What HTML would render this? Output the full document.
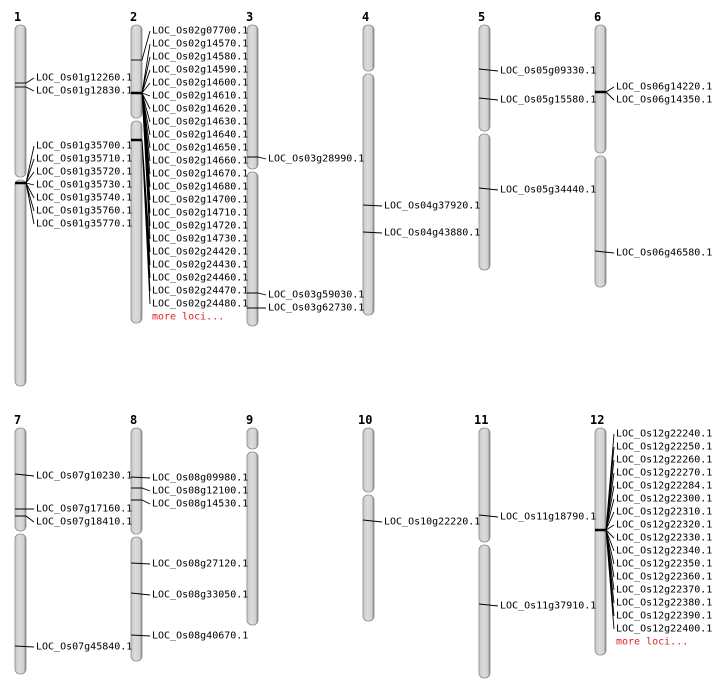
<!DOCTYPE html>
<html><head><meta charset="utf-8"><style>
body{margin:0;background:#fff}
svg{display:block}
text{font-family:"DejaVu Sans Mono","Liberation Mono",monospace;font-size:10px;dominant-baseline:central}
.n{font-family:"DejaVu Sans Mono","Liberation Mono",monospace;font-weight:bold;font-size:12px}
.r{fill:#e02020}
.c{fill:url(#g);stroke:#8a8a8a;stroke-width:0.8}
line,path{stroke:#000;stroke-width:0.9;fill:none}
.t{stroke-width:2.5}
</style></head><body>
<svg width="712" height="700" xmlns="http://www.w3.org/2000/svg">
<defs><linearGradient id="g" x1="0" x2="1"><stop offset="0" stop-color="#c8c8c8"/><stop offset="0.4" stop-color="#dcdcdc"/><stop offset="0.8" stop-color="#d0d0d0"/><stop offset="1" stop-color="#7a7a7a"/></linearGradient></defs>
<g class="n"><text x="14" y="17" class="n">1</text><text x="130" y="17" class="n">2</text><text x="246" y="17" class="n">3</text><text x="362" y="17" class="n">4</text><text x="478" y="17" class="n">5</text><text x="594" y="17" class="n">6</text>
<text x="14" y="420" class="n">7</text><text x="130" y="420" class="n">8</text><text x="246" y="420" class="n">9</text><text x="358" y="420" class="n">10</text><text x="474" y="420" class="n">11</text><text x="590" y="420" class="n">12</text></g>
<!-- chromosomes -->
<rect class="c" x="15" y="25" width="11" height="152" rx="5"/><rect class="c" x="15" y="180" width="11" height="206" rx="5"/>
<rect class="c" x="131" y="25" width="11" height="93" rx="5"/><rect class="c" x="131" y="121" width="11" height="202" rx="5"/>
<rect class="c" x="247" y="25" width="11" height="144" rx="5"/><rect class="c" x="247" y="172" width="11" height="154" rx="5"/>
<rect class="c" x="363" y="25" width="11" height="46" rx="5"/><rect class="c" x="363" y="74" width="11" height="241" rx="5"/>
<rect class="c" x="479" y="25" width="11" height="106" rx="5"/><rect class="c" x="479" y="134" width="11" height="136" rx="5"/>
<rect class="c" x="595" y="25" width="11" height="128" rx="5"/><rect class="c" x="595" y="156" width="11" height="131" rx="5"/>
<rect class="c" x="15" y="428" width="11" height="103" rx="5"/><rect class="c" x="15" y="534" width="11" height="140" rx="5"/>
<rect class="c" x="131" y="428" width="11" height="106" rx="5"/><rect class="c" x="131" y="537" width="11" height="124" rx="5"/>
<rect class="c" x="247" y="428" width="11" height="21" rx="5"/><rect class="c" x="247" y="452" width="11" height="173" rx="5"/>
<rect class="c" x="363" y="428" width="11" height="64" rx="5"/><rect class="c" x="363" y="495" width="11" height="126" rx="5"/>
<rect class="c" x="479" y="428" width="11" height="114" rx="5"/><rect class="c" x="479" y="545" width="11" height="133" rx="5"/>
<rect class="c" x="595" y="428" width="11" height="227" rx="5"/>
<!-- chr1 -->
<line x1="15" y1="83" x2="26" y2="83"/><line x1="15" y1="87" x2="26" y2="87"/>
<path d="M26 83 L34 78 M26 87 L34 91"/>
<line class="t" x1="15" y1="183" x2="26" y2="183"/>
<path d="M26 183 L34 146 M26 183 L34 159 M26 183 L34 172 M26 183 L34 185 M26 183 L34 198 M26 183 L34 211 M26 183 L34 224"/>
<text x="36" y="78">LOC_Os01g12260.1</text><text x="36" y="91">LOC_Os01g12830.1</text>
<text x="36" y="146">LOC_Os01g35700.1</text><text x="36" y="159">LOC_Os01g35710.1</text><text x="36" y="172">LOC_Os01g35720.1</text><text x="36" y="185">LOC_Os01g35730.1</text><text x="36" y="198">LOC_Os01g35740.1</text><text x="36" y="211">LOC_Os01g35760.1</text><text x="36" y="224">LOC_Os01g35770.1</text>
<!-- chr2 -->
<line x1="131" y1="60" x2="142" y2="60"/><line class="t" x1="131" y1="93" x2="142" y2="93"/><line class="t" x1="131" y1="140" x2="142" y2="140"/>
<path d="M142 60 L150 31 M142 93 L150 44 M142 93 L150 57 M142 93 L150 70 M142 93 L150 83 M142 93 L150 96 M142 93 L150 109 M142 93 L150 122 M142 93 L150 135 M142 93 L150 148 M142 93 L150 161 M142 93 L150 174 M142 93 L150 187 M142 93 L150 200 M142 93 L150 213 M142 93 L150 226 M142 93 L150 239 M142 140 L150 252 M142 140 L150 265 M142 140 L150 278 M142 140 L150 291 M142 140 L150 304"/>
<text x="152" y="31">LOC_Os02g07700.1</text><text x="152" y="44">LOC_Os02g14570.1</text><text x="152" y="57">LOC_Os02g14580.1</text><text x="152" y="70">LOC_Os02g14590.1</text><text x="152" y="83">LOC_Os02g14600.1</text><text x="152" y="96">LOC_Os02g14610.1</text><text x="152" y="109">LOC_Os02g14620.1</text><text x="152" y="122">LOC_Os02g14630.1</text><text x="152" y="135">LOC_Os02g14640.1</text><text x="152" y="148">LOC_Os02g14650.1</text><text x="152" y="161">LOC_Os02g14660.1</text><text x="152" y="174">LOC_Os02g14670.1</text><text x="152" y="187">LOC_Os02g14680.1</text><text x="152" y="200">LOC_Os02g14700.1</text><text x="152" y="213">LOC_Os02g14710.1</text><text x="152" y="226">LOC_Os02g14720.1</text><text x="152" y="239">LOC_Os02g14730.1</text><text x="152" y="252">LOC_Os02g24420.1</text><text x="152" y="265">LOC_Os02g24430.1</text><text x="152" y="278">LOC_Os02g24460.1</text><text x="152" y="291">LOC_Os02g24470.1</text><text x="152" y="304">LOC_Os02g24480.1</text><text x="152" y="317" class="r">more loci...</text>
<!-- chr3 -->
<path d="M247 157 L258 157 L266 159 M247 293 L258 293 L266 295 M247 308 L266 308"/>
<text x="268" y="159">LOC_Os03g28990.1</text><text x="268" y="295">LOC_Os03g59030.1</text><text x="268" y="308">LOC_Os03g62730.1</text>
<!-- chr4 -->
<path d="M363 205 L382 206 M363 232 L382 233"/>
<text x="384" y="206">LOC_Os04g37920.1</text><text x="384" y="233">LOC_Os04g43880.1</text>
<!-- chr5 -->
<path d="M479 69 L498 71 M479 98 L498 100 M479 188 L498 190"/>
<text x="500" y="71">LOC_Os05g09330.1</text><text x="500" y="100">LOC_Os05g15580.1</text><text x="500" y="190">LOC_Os05g34440.1</text>
<!-- chr6 -->
<line x1="595" y1="92" x2="606" y2="92" class="t"/><path d="M606 92 L614 87 M606 92 L614 100 M595 251 L614 253"/>
<text x="616" y="87">LOC_Os06g14220.1</text><text x="616" y="100">LOC_Os06g14350.1</text><text x="616" y="253">LOC_Os06g46580.1</text>
<!-- chr7 -->
<path d="M15 474 L34 476 M15 509 L34 509 M15 516 L26 516 L34 522 M15 646 L34 647"/>
<text x="36" y="476">LOC_Os07g10230.1</text><text x="36" y="509">LOC_Os07g17160.1</text><text x="36" y="522">LOC_Os07g18410.1</text><text x="36" y="647">LOC_Os07g45840.1</text>
<!-- chr8 -->
<path d="M131 477 L150 478 M131 488 L142 488 L150 491 M131 500 L142 500 L150 504 M131 563 L150 564 M131 593 L150 595 M131 635 L150 636"/>
<text x="152" y="478">LOC_Os08g09980.1</text><text x="152" y="491">LOC_Os08g12100.1</text><text x="152" y="504">LOC_Os08g14530.1</text><text x="152" y="564">LOC_Os08g27120.1</text><text x="152" y="595">LOC_Os08g33050.1</text><text x="152" y="636">LOC_Os08g40670.1</text>
<!-- chr10 -->
<path d="M363 520 L382 522"/><text x="384" y="522">LOC_Os10g22220.1</text>
<!-- chr11 -->
<path d="M479 515 L498 517 M479 604 L498 606"/>
<text x="500" y="517">LOC_Os11g18790.1</text><text x="500" y="606">LOC_Os11g37910.1</text>
<!-- chr12 -->
<line class="t" x1="595" y1="530" x2="606" y2="530"/>
<path d="M606 530 L614 434 M606 530 L614 447 M606 530 L614 460 M606 530 L614 473 M606 530 L614 486 M606 530 L614 499 M606 530 L614 512 M606 530 L614 525 M606 530 L614 538 M606 530 L614 551 M606 530 L614 564 M606 530 L614 577 M606 530 L614 590 M606 530 L614 603 M606 530 L614 616 M606 530 L614 629"/>
<text x="616" y="434">LOC_Os12g22240.1</text><text x="616" y="447">LOC_Os12g22250.1</text><text x="616" y="460">LOC_Os12g22260.1</text><text x="616" y="473">LOC_Os12g22270.1</text><text x="616" y="486">LOC_Os12g22284.1</text><text x="616" y="499">LOC_Os12g22300.1</text><text x="616" y="512">LOC_Os12g22310.1</text><text x="616" y="525">LOC_Os12g22320.1</text><text x="616" y="538">LOC_Os12g22330.1</text><text x="616" y="551">LOC_Os12g22340.1</text><text x="616" y="564">LOC_Os12g22350.1</text><text x="616" y="577">LOC_Os12g22360.1</text><text x="616" y="590">LOC_Os12g22370.1</text><text x="616" y="603">LOC_Os12g22380.1</text><text x="616" y="616">LOC_Os12g22390.1</text><text x="616" y="629">LOC_Os12g22400.1</text><text x="616" y="642" class="r">more loci...</text>
</svg>
</body></html>
